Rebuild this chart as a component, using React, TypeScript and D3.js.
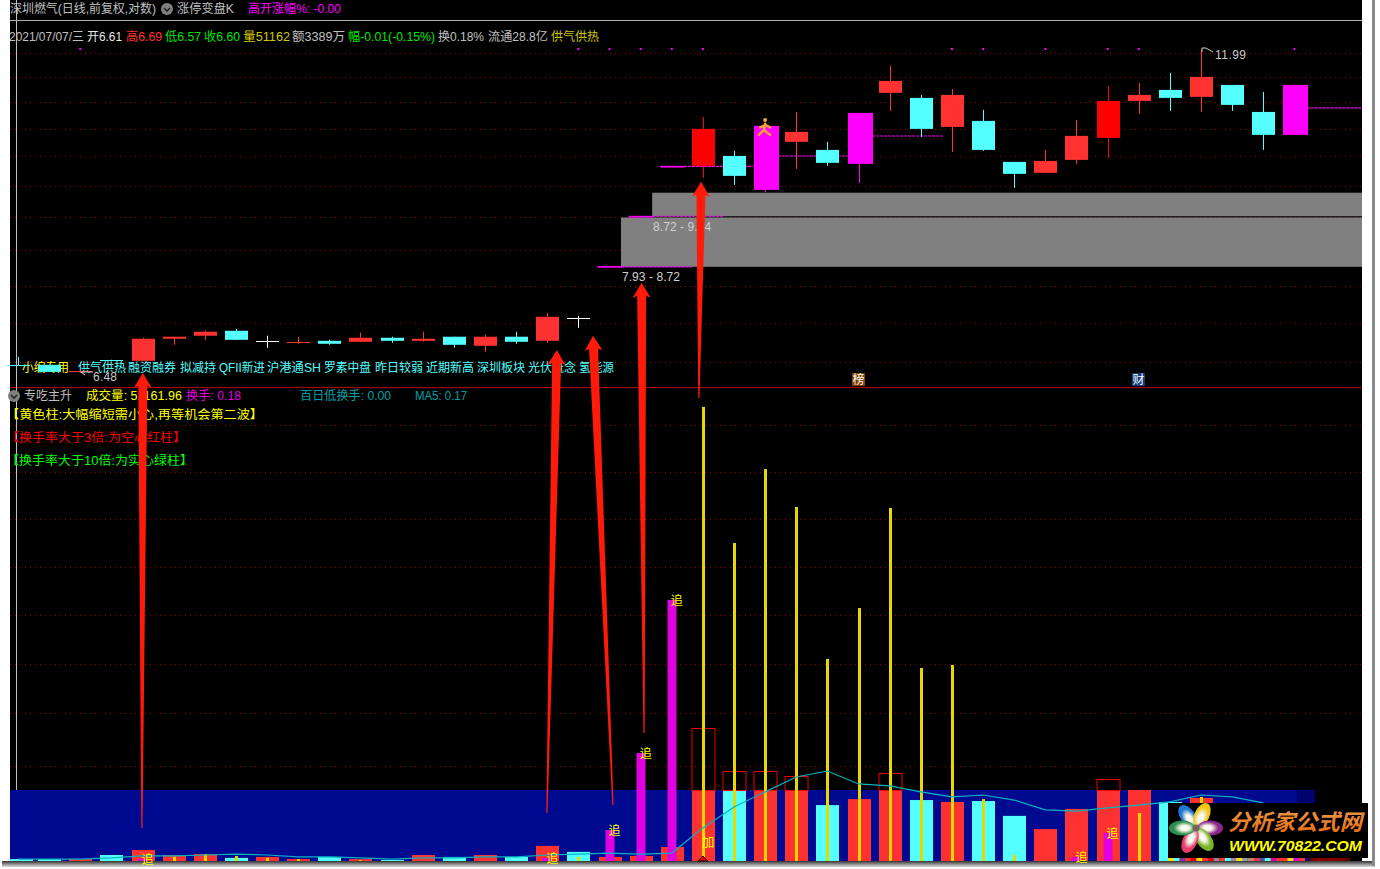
import React from "react";
import * as d3 from "d3";

const W = 1380, H = 869;
// ---- candles (index 0..41) ----
const kinds = "c c r c r r r c w r c r c r c r c r w m m m R c m r c m r c r c c r r R r c r c c m".split(" ");
const opens = [6.575,6.582,6.494,6.645,6.632,6.916,6.956,7.022,6.889,6.863,6.889,6.876,6.929,6.889,6.943,6.824,6.943,6.889,7.197,7.93,8.72,9.59,9.608,9.792,9.179,10.057,9.904,9.645,11.038,10.934,10.347,10.466,9.681,9.481,9.718,10.133,10.871,11.101,10.955,11.207,10.646,10.191];
const closes = [6.57,6.494,6.506,6.632,6.916,6.943,7.009,6.902,6.889,6.876,6.85,6.929,6.889,6.916,6.837,6.943,6.876,7.211,7.197,7.93,8.72,9.59,10.308,9.427,10.367,10.25,9.663,10.626,11.293,10.308,10.996,9.904,9.463,9.699,10.172,10.871,10.996,10.934,11.38,10.789,10.191,11.207];
const highs = [6.683,6.582,6.506,6.645,6.929,6.943,7.022,7.049,6.956,6.943,6.902,6.996,6.943,7.009,6.943,6.969,7.009,7.265,7.224,7.93,8.72,9.59,10.546,9.886,10.367,10.646,10.057,10.626,11.62,10.996,11.123,10.687,9.681,9.904,10.486,11.186,11.25,11.466,11.99,11.207,11.06,11.207];
const lows = [6.57,6.494,6.48,6.632,6.632,6.837,6.902,6.902,6.798,6.85,6.837,6.876,6.863,6.876,6.798,6.746,6.85,6.863,7.062,7.93,8.72,9.59,9.391,9.267,9.144,9.553,9.608,9.302,10.667,10.153,9.867,9.886,9.214,9.481,9.645,9.755,10.606,10.667,10.646,10.667,9.904,10.191];
const priceGrid = [11.91,11.38,10.851,10.308,9.792,9.25,8.72,8.19,7.648,7.129,6.62];
const flagDots = [2,18,19,20,21,22,30,31,33,35,36,41];
const zones = [{ from: 19.37, lo: 7.93, hi: 8.71, label: "7.93 - 8.72", lx: 19.4 , lp: 7.74}, { from: 20.37, lo: 8.73, hi: 9.13, label: "8.72 - 9.14", lx: 20.4, lp: 8.5 }];
const dashLines = [[18.6,21.65,7.93],[19.6,22.65,8.73],[20.62,23.6,9.6],[24.41,26.63,9.79],[27.43,29.71,10.17],[41.4,43.14,10.73]];

// ---- lower panel ----
const barKinds = "c c r c r r r c r r c r c r c r c r c r r r r c r r c r r c r c c r r r r c r c c c".split(" ");
const turnover = [0.08,0.08,0.08,0.25,0.46,0.25,0.29,0.13,0.17,0.08,0.17,0.08,0.04,0.25,0.17,0.25,0.17,0.63,0.38,0.17,0.21,0.58,5.54,3.75,3.75,3.54,2.33,2.58,3.67,2.54,2.46,2.5,1.88,1.33,2.17,3.42,2.96,2.46,2.63,0.13,0.13,0.18];
const bigLine = [0,0,0,0,0,0.17,0.29,0.21,0.13,0.08,0,0.04,0,0,0,0,0,0,0.17,0,0,0,18.92,13.25,16.33,14.75,8.42,10.54,14.71,8.04,8.17,2.58,0.25,0,0,0,2,0,2.67,0,0,0];
const chase = [0,0,0,0,0.1,0,0,0,0,0,0,0,0,0,0,0,0,0.13,0,1.29,4.5,10.88,0,0,0,0,0,0,0,0,0,0,0,0,0.17,1.17,0,0,0,0,0,0];
const ma5 = [0.08,0.08,0.08,0.13,0.21,0.21,0.25,0.29,0.25,0.17,0.17,0.13,0.08,0.13,0.13,0.17,0.17,0.25,0.29,0.33,0.29,0.33,1.38,2.25,2.88,3.5,3.75,3.21,3.13,2.88,2.67,2.75,2.54,2.13,2.08,2.21,2.33,2.46,2.75,2.67,2.42];
const volGridValues = [18.17,16.21,14.25,12.25,10.25,8.21,6.17,3.96];
const capValue = 2.96;
const chaseLabels = [4,17,19,20,21,34,35];

// ---- text ----
const header1 = [
  { t: "深圳燃气(日线,前复权,对数)", x: 10, w: 146, c: "#c0c0c0" },
  { t: "涨停变盘K", x: 177, w: 57, c: "#c0c0c0" },
  { t: "高开涨幅%: -0.00", x: 248, w: 93, c: "#ff00ff" },
];
const header2 = [
  { t: "2021/07/07/三", x: 9, w: 75, c: "#c0c0c0" },
  { t: "开6.61", x: 87, w: 35, c: "#e8e8e8" },
  { t: "高6.69", x: 126, w: 36, c: "#ff3232" },
  { t: "低6.57", x: 165, w: 36, c: "#00e600" },
  { t: "收6.60", x: 204, w: 36, c: "#00e600" },
  { t: "量51162", x: 243, w: 47, c: "#d2c800" },
  { t: "额3389万", x: 292, w: 53, c: "#c0c0c0" },
  { t: "幅-0.01(-0.15%)", x: 348, w: 87, c: "#00e600" },
  { t: "换0.18%", x: 438, w: 46, c: "#c0c0c0" },
  { t: "流通28.8亿", x: 488, w: 60, c: "#c0c0c0" },
  { t: "供气供热", x: 551, w: 48, c: "#d2c800" },
];
const tags = [
  { t: "小编专用", x: 22, w: 47, c: "#ffff00" },
  { t: "供气供热", x: 78, w: 48, c: "#54ffff" },
  { t: "融资融券", x: 128, w: 48, c: "#54ffff" },
  { t: "拟减持", x: 180, w: 36, c: "#54ffff" },
  { t: "QFII新进", x: 219, w: 46, c: "#54ffff" },
  { t: "沪港通SH", x: 267, w: 54, c: "#54ffff" },
  { t: "罗素中盘", x: 324, w: 47, c: "#54ffff" },
  { t: "昨日较弱", x: 375, w: 48, c: "#54ffff" },
  { t: "近期新高", x: 426, w: 48, c: "#54ffff" },
  { t: "深圳板块", x: 477, w: 48, c: "#54ffff" },
  { t: "光伏概念", x: 528, w: 48, c: "#54ffff" },
  { t: "氢能源", x: 579, w: 35, c: "#54ffff" },
];
const lowerTitle = [
  { t: "专吃主升", x: 24, w: 48, c: "#c0c0c0" },
  { t: "成交量: 51161.96", x: 86, w: 96, c: "#ffff00" },
  { t: "换手: 0.18", x: 186, w: 55, c: "#e000e0" },
  { t: "百日低换手: 0.00", x: 300, w: 91, c: "#00a0a8" },
  { t: "MA5: 0.17", x: 415, w: 52, c: "#00a0a8" },
];
const notes = [
  { t: "【黄色柱:大幅缩短需小心,再等机会第二波】", x: 6, y: 419, w: 257, c: "#ffff00" },
  { t: "【换手率大于3倍:为空心红柱】", x: 6, y: 442, w: 180, c: "#ff0000" },
  { t: "【换手率大于10倍:为实心绿柱】", x: 6, y: 465, w: 187, c: "#00ff00" },
];
// annotation arrows: tip at (index, price), tail at (index, turnover)
const arrows = [
  { ti: 4.01, tp: 6.48, bi: 3.98, bv: 1.375 },
  { ti: 17.31, tp: 6.77, bi: 16.99, bv: 2.0 },
  { ti: 18.47, tp: 6.956, bi: 19.11, bv: 2.33 },
  { ti: 20.03, tp: 7.692, bi: 20.11, bv: 5.33 },
  { ti: 21.94, tp: 9.32, bi: 21.87, bv: 19.29 },
];
const petals = [
  { a: -35, o: "#1e78d2" }, { a: 25, o: "#f0c814" }, { a: 90, o: "#8c288c" },
  { a: 145, o: "#78b428" }, { a: 205, o: "#e63c6e" }, { a: 270, o: "#2d8c50" },
];
const stripColors = ["#ffe000","#54ffff","#8030a0","#ff3232","#e00000","#ffe000","#ff3232","#e00000","#a08090","#ff3232","#54ffff","#a080a0","#ffe000","#90a0a0","#c08080","#ff3232","#5050a0","#54ffff","#e000a0","#ff3232","#ff3232","#ffe000","#e000e0","#ff3232","#200060","#800000","#900000","#800000","#900000","#800000","#800000","#600000"];

const FONT = "'Liberation Sans','Noto Sans CJK SC',sans-serif";
const CJK = "'Noto Sans CJK SC','Liberation Sans',sans-serif";
const RED = "#ff3232", CYAN = "#54ffff", MAG = "#ff00ff";

const x = d3.scaleLinear().domain([0, 41]).range([18, 1294.4]);
const py = d3.scaleLog().domain([6.48, 11.99]).range([373, 49.4]);
const vy = d3.scaleLinear().domain([0, 19.625]).range([861, 390]);

const candleColor = (k: string) => ({ r: RED, c: CYAN, m: MAG, R: "#ff0000", w: "#ffffff" } as any)[k];

function Label({ t, x: lx, y, w, c, size = 12 }: any) {
  return <text x={lx} y={y} fill={c} fontSize={size} fontFamily={FONT} textLength={w} lengthAdjust="spacingAndGlyphs">{t}</text>;
}
function Chevron({ cx, cy }: any) {
  return <g><circle cx={cx} cy={cy} r={6} fill="#808080" /><path d={`M${cx - 3} ${cy - 1}L${cx} ${cy + 2}L${cx + 3} ${cy - 1}`} stroke="#222" strokeWidth={1.6} fill="none" /></g>;
}
function arrowPath(a: any) {
  const tx = x(a.ti), ty = py(a.tp), bx = x(a.bi), by = vy(a.bv);
  const dx = bx - tx, dy = by - ty, len = Math.hypot(dx, dy);
  const ux = dx / len, uy = dy / len, nx = -uy, ny = ux;
  const hl = 15, hw = 9, nw = 4.5;
  const p = (l: number, s: number) => [tx + ux * l + nx * s, ty + uy * l + ny * s].join(",");
  return `M${p(0, 0)}L${p(hl, hw)}L${p(hl - 2, nw)}L${p(len, 0.6)}L${p(len, -0.6)}L${p(hl - 2, -nw)}L${p(hl, -hw)}Z`;
}

export default function App() {
  const barW = 23;
  const maLine = d3.line<number>().x((_, i) => x(i)).y((d) => vy(d)).curve(d3.curveLinear)(ma5) as string;
  const logoCx = 1196, logoCy = 828;
  return (
    <svg width={W} height={H} viewBox={`0 0 ${W} ${H}`} style={{ position: "fixed", left: 0, top: 0, display: "block", background: "#fff" }}>
      <defs>
        {petals.map((p, i) => (
          <radialGradient key={i} id={`pet${i}`} cx="50%" cy="60%" r="60%">
            <stop offset="0%" stopColor="#ffffff" />
            <stop offset="30%" stopColor="#f4f4e4" />
            <stop offset="70%" stopColor={p.o} />
            <stop offset="100%" stopColor={p.o} />
          </radialGradient>
        ))}
        <linearGradient id="logoText" x1="0" y1="0" x2="0" y2="1">
          <stop offset="0%" stopColor="#e8a050" />
          <stop offset="100%" stopColor="#e86a10" />
        </linearGradient>
        <linearGradient id="shadow" x1="0" y1="0" x2="0" y2="1">
          <stop offset="0%" stopColor="#333" />
          <stop offset="100%" stopColor="#ddd" />
        </linearGradient>
      </defs>
      {/* frame */}
      <rect x={2} y={861} width={1373} height={6} fill="url(#shadow)" />
      <rect x={1372} y={0} width={3} height={866} fill="#8a8a8a" />
      <rect x={10} y={0} width={1352} height={861} fill="#000" />

      {/* grid */}
      {priceGrid.map((p) => (
        <line key={p} x1={10} x2={1362} y1={Math.round(py(p)) + 0.5} y2={Math.round(py(p)) + 0.5} stroke="#980000" strokeDasharray="1 4" />
      ))}
      {volGridValues.map((v) => (
        <line key={v} x1={10} x2={1362} y1={Math.round(vy(v)) + 0.5} y2={Math.round(vy(v)) + 0.5} stroke="#980000" strokeDasharray="1 4" />
      ))}

      {/* zones */}
      {zones.map((z) => (
        <rect key={z.label} x={x(z.from)} y={py(z.hi)} width={1362 - x(z.from)} height={py(z.lo) - py(z.hi)} fill="#808080" />
      ))}
      {zones.map((z) => (
        <text key={z.label} x={x(z.lx)} y={py(z.lp) + 1} fill="#d0d0d0" fontSize={12} fontFamily={FONT} textLength={58}>{z.label}</text>
      ))}

      {/* tag line under candles */}
      {tags.map((t) => <Label key={t.t} {...t} y={372} size={12} />)}

      {/* dots */}
      {flagDots.map((i) => <rect key={i} x={x(i) - 1} y={48} width={2} height={2} fill={MAG} />)}

      {/* magenta level lines */}
      {dashLines.map((d, i) => (
        <line key={i} x1={x(d[0])} x2={x(d[1])} y1={py(d[2])} y2={py(d[2])} stroke={MAG} strokeWidth={1.2} strokeDasharray="3 1" />
      ))}

      {/* candles */}
      {kinds.map((k, i) => {
        const c = candleColor(k);
        const top = py(Math.max(opens[i], closes[i]));
        const bot = py(Math.min(opens[i], closes[i]));
        const cx = Math.round(x(i)) + 0.5;
        if (k === "m" && highs[i] === lows[i]) return <line key={i} x1={cx - 12} x2={cx + 12} y1={top} y2={top} stroke={c} strokeWidth={1.5} />;
        return (
          <g key={i}>
            <line x1={cx} x2={cx} y1={py(highs[i])} y2={py(lows[i])} stroke={c} />
            {bot - top < 1.5
              ? <line x1={cx - 11.5} x2={cx + 11.5} y1={Math.round(top) + 0.5} y2={Math.round(top) + 0.5} stroke={c} />
              : <rect x={cx - 11.5} y={top} width={k === "m" ? 25 : 23} height={bot - top} fill={c} />}
          </g>
        );
      })}
      {/* high and low marks */}
      <path d={`M${x(38) + 1} 52V48L${x(38) + 5} 48L${x(38) + 12} 52`} stroke="#d0d0d0" fill="none" />
      <text x={1215} y={59} fill="#c8c8c8" fontSize={12} fontFamily={FONT} textLength={31}>11.99</text>
      <path d="M93 372H81L85 375" stroke="#d0d0d0" fill="none" />
      <text x={93} y={381} fill="#c8c8c8" fontSize={12} fontFamily={FONT} textLength={24}>6.48</text>

      {/* runner icon */}
      <g transform={`translate(${x(24)},${py(10.37) + 3}) scale(1.25)`} stroke="#f0a040" strokeWidth={2} fill="none" strokeLinecap="round">
        <circle cx={0} cy={-7} r={1.6} fill="#f0a040" stroke="none" />
        <path d="M0 -4L-1 1L-5 5M-1 1L4 5M-4 -1L0 -3L4 -1" />
      </g>

      {/* signal tags */}
      <rect x={852} y={373} width={13} height={13} fill="#804000" />
      <text x={852.5} y={384} fill="#fff" fontSize={12} fontFamily={CJK}>榜</text>
      <rect x={1132} y={373} width={13} height={13} fill="#103c78" />
      <text x={1132.5} y={384} fill="#fff" fontSize={12} fontFamily={CJK}>财</text>

      {/* axes lines */}
      <line x1={10} x2={1362} y1={20.5} y2={20.5} stroke="#b0b0b0" />
      <line x1={10} x2={1362} y1={387.5} y2={387.5} stroke="#b40000" />
      <line x1={16.5} x2={16.5} y1={0} y2={861} stroke="#c0c0c0" />

      {/* headers */}
      {header1.map((t) => <Label key={t.t} {...t} y={13} />)}
      <Chevron cx={167} cy={9} />
      {header2.map((t) => <Label key={t.t} {...t} y={41} />)}
      <Chevron cx={14} cy={396} />
      {lowerTitle.map((t) => <Label key={t.t} {...t} y={400} />)}
      {notes.map((t) => <Label key={t.t} {...t} />)}

      {/* lower panel */}
      <rect x={10} y={vy(capValue)} width={1287} height={861 - vy(capValue)} fill="#000a90" />
      <rect x={1297} y={vy(capValue)} width={18} height={861 - vy(capValue)} fill="#000070" />
      {turnover.map((v, i) => {
        const cx = Math.round(x(i)) + 0.5;
        const capped = Math.min(v, capValue);
        return (
          <g key={i}>
            <rect x={Math.max(10, cx - barW / 2)} y={vy(capped)} width={barW} height={861 - vy(capped)} fill={barKinds[i] === "r" ? RED : CYAN} />
            {v > capValue && <rect x={cx - barW / 2} y={Math.round(vy(v)) + 0.5} width={barW} height={Math.round(vy(capValue) - vy(v))} fill="none" stroke="#f00000" strokeWidth={1} />}
          </g>
        );
      })}
      {chase.map((v, i) => v > 0 && <rect key={i} x={Math.round(x(i)) - 4.5} y={vy(v)} width={9} height={861 - vy(v)} fill="#e000e0" />)}
      {bigLine.map((v, i) => v > 0 && <rect key={i} x={Math.round(x(i)) - 1} y={vy(v)} width={3} height={861 - vy(v)} fill="#e6d800" />)}
      <path d={`M${x(22) - 5} 861L${x(22)} 856L${x(22) + 5} 861Z`} fill="#e00000" stroke="#200000" />
      <path d={maLine} fill="none" stroke="#00b4c0" strokeWidth={1.2} />
      {chaseLabels.map((i) => (
        <text key={i} x={x(i) + 5} y={vy(chase[i]) + 5} textAnchor="middle" fill="#ffff00" fontSize={12} fontFamily={CJK}>追</text>
      ))}
      <text x={x(22) + 5} y={846} textAnchor="middle" fill="#ffff00" fontSize={13} fontFamily={CJK}>加</text>

      {/* arrows */}
      {arrows.map((a, i) => <path key={i} d={arrowPath(a)} fill="#ff1a0a" />)}

      {/* logo */}
      {stripColors.map((c, i) => <rect key={i} x={1168 + i * 5.7} y={858} width={5.7} height={3} fill={c} />)}
      <rect x={1168} y={803} width={200} height={55} fill="#000" />
      {petals.map((p, i) => (
        <ellipse key={i} cx={0} cy={-14} rx={7.5} ry={13} fill={`url(#pet${i})`} transform={`translate(${logoCx},${logoCy}) rotate(${p.a})`} />
      ))}
      <circle cx={logoCx} cy={logoCy} r={3.5} fill="#6a6a50" />
      <text x={1228} y={830} fontSize={22} fontWeight="bold" fontStyle="italic" fill="url(#logoText)" fontFamily={CJK} textLength={134} lengthAdjust="spacingAndGlyphs">分析家公式网</text>
      <text x={1229} y={851} fontSize={15} fontWeight="bold" fontStyle="italic" fill="#ffff00" fontFamily="'Liberation Sans',sans-serif" textLength={133} lengthAdjust="spacingAndGlyphs">WWW.70822.COM</text>
    </svg>
  );
}
